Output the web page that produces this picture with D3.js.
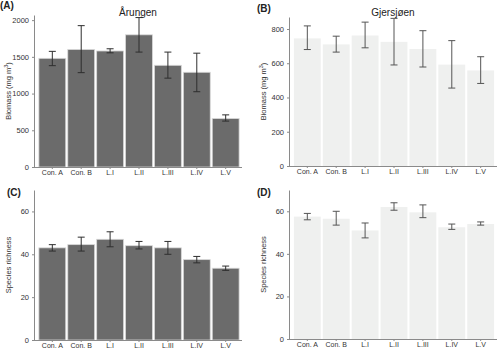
<!DOCTYPE html>
<html lang="en">
<head>
    <script src='https://d3js.org/d3.v7.min.js'></script>
    <style>
        body { margin: 0; background: white; }
        text { font-family: 'Liberation Sans', Arial, sans-serif; }
    </style>
</head>
<body>
<script>
    var width = 500, height = 351;

    var categories = ['Con. A', 'Con. B', 'L.I', 'L.II', 'L.III', 'L.IV', 'L.V'];

    // biomass (mg m-3)
    var arungenBiomass = [1480, 1600, 1580, 1800, 1385, 1290, 660];
    var arungenBiomassLo = [1380, 1285, 1555, 1565, 1210, 1025, 625];
    var arungenBiomassHi = [1575, 1925, 1610, 2035, 1565, 1550, 710];

    var gjersjoenBiomass = [745, 710, 762, 725, 683, 592, 558];
    var gjersjoenBiomassLo = [680, 665, 690, 590, 578, 455, 482];
    var gjersjoenBiomassHi = [818, 758, 840, 862, 790, 732, 638];

    // species richness
    var arungenRichness = [43, 44.5, 47, 44, 43, 37.5, 33.5];
    var arungenRichnessLo = [41.5, 41.5, 43.5, 42.5, 40, 36, 32.5];
    var arungenRichnessHi = [44.5, 48, 50.5, 46, 46, 39, 34.5];

    var gjersjoenRichness = [57.5, 56.5, 51, 62, 59.5, 52.5, 54];
    var gjersjoenRichnessLo = [56, 53.5, 47.5, 60.5, 57, 51.5, 53.5];
    var gjersjoenRichnessHi = [59, 60, 54.5, 64, 63, 54, 55];

    var biomassTicksA = [0, 500, 1000, 1500, 2000];
    var biomassTicksB = [0, 200, 400, 600, 800];
    var richnessTicks = [0, 20, 40, 60];

    var svg = d3.select('body').append('svg').attr('width', width).attr('height', height);

    var panels = [
        {label: '(A)', title: 'Årungen', vals: arungenBiomass, lo: arungenBiomassLo, hi: arungenBiomassHi,
         ticks: biomassTicksA, max: 2070, x0: 34, x1: 242, y0: 167, y1: 15, ylab: 'biomass',
         fill: '#6b6b6b', stroke: '#d8d8d8', err: '#2e2e2e', lx: 0, ly: 9},
        {label: '(B)', title: 'Gjersjøen', vals: gjersjoenBiomass, lo: gjersjoenBiomassLo, hi: gjersjoenBiomassHi,
         ticks: biomassTicksB, max: 870, x0: 289, x1: 497, y0: 166, y1: 17, ylab: 'biomass',
         fill: '#eff0ef', stroke: 'none', err: '#555', lx: 257, ly: 12},
        {label: '(C)', title: '', vals: arungenRichness, lo: arungenRichnessLo, hi: arungenRichnessHi,
         ticks: richnessTicks, max: 70, x0: 34, x1: 242, y0: 340, y1: 190, ylab: 'richness',
         fill: '#6b6b6b', stroke: '#d8d8d8', err: '#2e2e2e', lx: 7, ly: 196},
        {label: '(D)', title: '', vals: gjersjoenRichness, lo: gjersjoenRichnessLo, hi: gjersjoenRichnessHi,
         ticks: richnessTicks, max: 70, x0: 289, x1: 497, y0: 339, y1: 190, ylab: 'richness',
         fill: '#eff0ef', stroke: 'none', err: '#555', lx: 257, ly: 196}
    ];

    panels.forEach(function(p) {
        var g = svg.append('g');

        var x = d3.scaleBand().domain(categories).range([p.x0 + 2, p.x1]).paddingInner(0.07).paddingOuter(0.1);
        var y = d3.scaleLinear().domain([0, p.max]).range([p.y0, p.y1]);

        var data = categories.map(function(c, i) {
            return {cat: c, v: p.vals[i], lo: p.lo[i], hi: p.hi[i]};
        });

        // bars
        g.selectAll('rect.bar')
            .data(data)
            .join('rect')
            .attr('class', 'bar')
            .attr('x', function(d) { return x(d.cat); })
            .attr('width', x.bandwidth())
            .attr('y', function(d) { return y(d.v); })
            .attr('height', function(d) { return y(0) - y(d.v); })
            .attr('fill', p.fill)
            .attr('stroke', p.stroke)
            .attr('stroke-width', 0.8);

        // error bars
        var eb = g.selectAll('g.err').data(data).join('g').attr('class', 'err')
            .attr('stroke', p.err).attr('stroke-width', 1);
        eb.append('line')
            .attr('x1', function(d) { return x(d.cat) + x.bandwidth() / 2; })
            .attr('x2', function(d) { return x(d.cat) + x.bandwidth() / 2; })
            .attr('y1', function(d) { return y(d.lo); })
            .attr('y2', function(d) { return y(d.hi); });
        ['lo', 'hi'].forEach(function(k) {
            eb.append('line')
                .attr('x1', function(d) { return x(d.cat) + x.bandwidth() / 2 - 3.5; })
                .attr('x2', function(d) { return x(d.cat) + x.bandwidth() / 2 + 3.5; })
                .attr('y1', function(d) { return y(d[k]); })
                .attr('y2', function(d) { return y(d[k]); });
        });

        // y axis
        var yAxis = g.append('g')
            .attr('transform', 'translate(' + p.x0 + ',0)')
            .call(d3.axisLeft(y).tickValues(p.ticks).tickFormat(d3.format('d'))
                .tickSize(2).tickSizeOuter(0).tickPadding(3));
        yAxis.select('.domain').attr('stroke', '#8a8a8a');
        yAxis.selectAll('.tick line').attr('stroke', '#8a8a8a');
        yAxis.selectAll('.tick text').attr('fill', '#333').style('font-size', '7.5px');

        // x axis
        var xAxis = g.append('g')
            .attr('transform', 'translate(0,' + p.y0 + ')')
            .call(d3.axisBottom(x).tickSize(2).tickSizeOuter(0).tickPadding(1));
        xAxis.select('.domain').attr('stroke', '#8a8a8a').attr('d', 'M' + p.x0 + ',0.5H' + p.x1);
        xAxis.selectAll('.tick line').attr('stroke', '#8a8a8a');
        xAxis.selectAll('.tick text').attr('fill', '#333').style('font-size', '7px');

        // y label
        var yl = g.append('text')
            .attr('transform', 'translate(' + (p.x0 - 23) + ',' + ((p.y0 + p.y1) / 2) + ') rotate(-90)')
            .attr('text-anchor', 'middle')
            .attr('fill', '#333')
            .style('font-size', '7.5px');
        if (p.ylab === 'biomass') {
            yl.append('tspan').text('Biomass (mg m');
            yl.append('tspan').attr('dy', -3).style('font-size', '5.5px').text('3');
            yl.append('tspan').attr('dy', 3).text(')');
        } else {
            yl.text('Species richness');
        }

        // panel label
        g.append('text')
            .attr('x', p.lx).attr('y', p.ly)
            .attr('fill', '#222')
            .style('font-size', '10px')
            .style('font-weight', 'bold')
            .text(p.label);

        // title
        if (p.title) {
            g.append('text')
                .attr('x', (p.x0 + p.x1) / 2)
                .attr('y', 16)
                .attr('text-anchor', 'middle')
                .attr('fill', '#222')
                .style('font-size', '10px')
                .text(p.title);
        }
    });
</script>
</body>
</html>
